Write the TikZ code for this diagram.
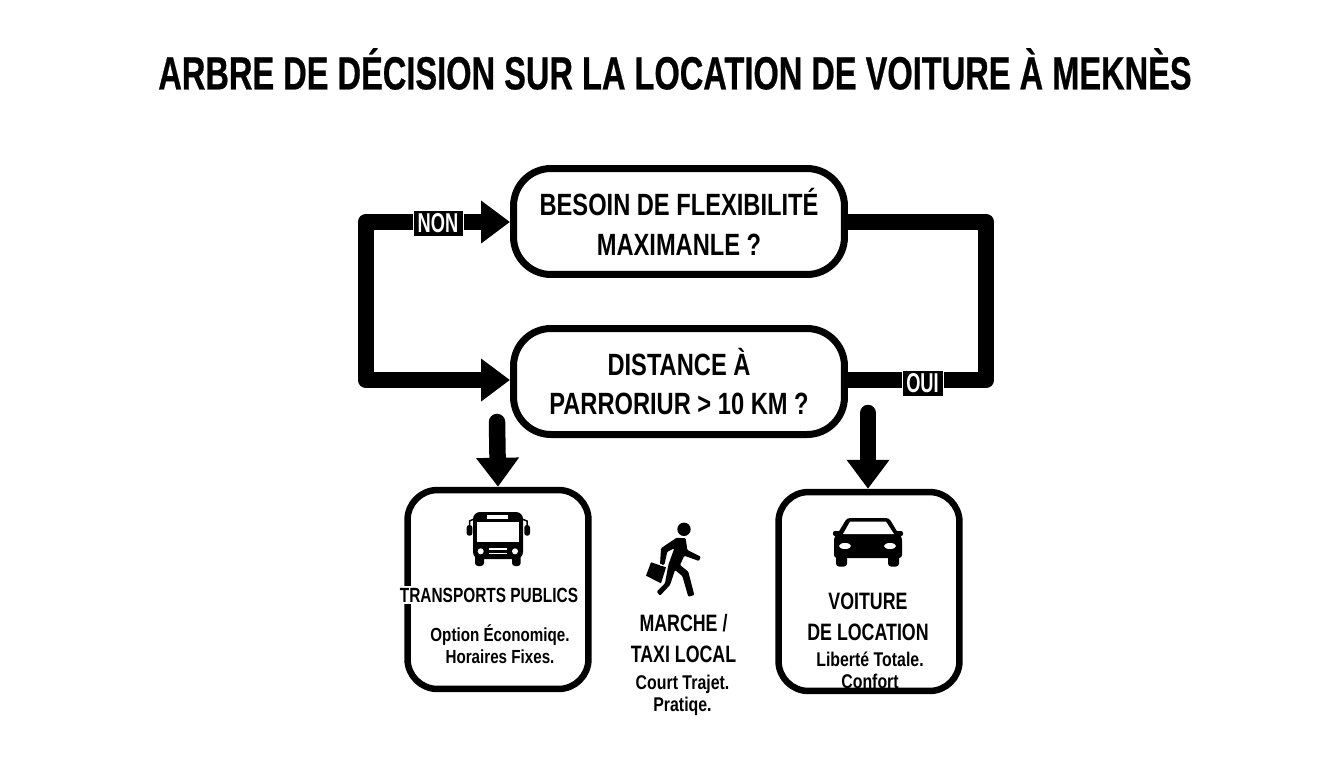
\documentclass[tikz,border=0pt]{standalone}
\usepackage{fontspec}
\setmainfont{Liberation Sans}
\newfontfamily\titlefont[FakeStretch=0.7,FakeBold=0.5]{Liberation Sans}
\newfontfamily\boxfont[FakeStretch=0.77]{Liberation Sans}
\newfontfamily\headfont[FakeStretch=0.75]{Liberation Sans}
\newfontfamily\notefont[FakeStretch=0.8]{Liberation Sans}
\newfontfamily\tagfont[FakeStretch=0.67]{Liberation Sans}
\usetikzlibrary{arrows.meta}
\tikzset{
	question/.style={draw,line width=0.14cm,rounded corners=0.75cm,minimum width=6.62cm,minimum height=2.12cm,align=center,font=\boxfont\bfseries\fontsize{17.5}{22.7}\selectfont},
	result/.style={draw,line width=0.13cm,rounded corners=0.6cm,minimum width=3.62cm,minimum height=3.98cm},
	looptrack/.style={line width=0.33cm,line join=round,{Triangle[length=0.58cm,width=0.82cm]}-{Triangle[length=0.58cm,width=0.82cm]}},
	rightloop/.style={line width=0.33cm,line join=round},
	downarrow/.style={line width=0.33cm,line cap=round,-{Triangle[length=0.58cm,width=0.82cm]}},
	tagbox/.style={fill=black,text=white,draw=white,line width=0.02cm,inner sep=0pt,minimum width=1cm,minimum height=0.52cm,font=\tagfont\bfseries\fontsize{15.5}{16}\selectfont},
	heading/.style={align=center,font=\headfont\bfseries\fontsize{13.5}{17.5}\selectfont},
	detail/.style={align=center,font=\notefont\bfseries\fontsize{10.8}{12.5}\selectfont},
	detailbig/.style={align=center,font=\notefont\bfseries\fontsize{11.3}{12.5}\selectfont}
}
\begin{document}
\begin{tikzpicture}[x=0.02cm,y=-0.02cm]
	\useasboundingbox (0,0) rectangle (1344,768);

	\coordinate (LT) at (366,222);
	\coordinate (LB) at (366,380);
	\coordinate (RT) at (986,222);
	\coordinate (RB) at (986,380);
	\coordinate (BT) at (497,422);
	\coordinate (CT) at (868,413);

	% 标题
	\node [font=\titlefont\bfseries\fontsize{26.5}{30}\selectfont] (title) at (675,69) {ARBRE DE DÉCISION SUR LA LOCATION DE VOITURE À MEKNÈS};

	% 问题框
	\node [question] (flex) at (679,221.5) {BESOIN DE FLEXIBILITÉ\\MAXIMANLE ?};
	\node [question] (dist) at (679,381.5) {DISTANCE À\\PARRORIUR > 10 KM ?};

	% 结果框
	\node [result] (bus) at (498,589.5) {};
	\node [result] (car) at (869,591.5) {};

	% 连接线
	\draw [looptrack] (flex.west |- LT) -- (LT) -- (LB) -- (dist.west |- LB);
	\draw [rightloop] (flex.east |- RT) -- (RT) -- (RB) -- (dist.east |- RB);
	\draw [downarrow] (BT) -- (bus.north);
	\draw [downarrow] (CT) -- (car.north -| CT);

	% 标注
	\node [tagbox] (non) at (438,223) {NON};
	\node [tagbox,minimum width=0.82cm] (oui) at (922.5,383) {OUI};

	% 公交车图标
	\fill [rounded corners=0.14cm] (473,512) rectangle (523,559);
	\fill [rounded corners=0.06cm] (475,555) rectangle (484,566);
	\fill [rounded corners=0.06cm] (512,555) rectangle (520.7,566);
	\fill [rounded corners=0.05cm] (466.7,525) rectangle (472.3,535.7);
	\fill [rounded corners=0.05cm] (524.3,525) rectangle (530,535.7);
	\draw [line width=0.03cm] (469.5,525) -- (469.5,521) -- (474,519);
	\draw [line width=0.03cm] (527,525) -- (527,521) -- (522,519);
	\fill [white] (476.7,521.7) rectangle (519.3,542.3);
	\fill [white] (487,515) rectangle (507.7,519);
	\fill [white] (480.7,551.3) circle (3);
	\fill [white] (515,551.3) circle (3);
	\fill [white] (489.3,548.3) rectangle (506.7,550);
	\fill [white] (489.3,552.7) rectangle (506.7,554);

	% 行人图标
	\fill (684,529.3) circle (6.7);
	\fill [rounded corners=0.02cm] (663.3,546.7) -- (676.7,537.7) -- (685.7,538.3) -- (687.3,550) -- (700.7,556.7) -- (699,561) -- (684.3,555.7) -- (680,565) -- (688.3,571.7) -- (694.3,595) -- (688.3,596.7) -- (682.3,576) -- (675,570) -- (670,585) -- (660,595.7) -- (656.7,591.7) -- (665,583.3) -- (668.3,565) -- (674.3,548.3) -- (667.3,551.7) -- (664.3,565) -- (660,564.3) -- (661,548.3) -- cycle;
	\fill (651,562.3) -- (666,567.3) -- (661,583.3) -- (646,575.7) -- cycle;
	\fill [white] (661,564.8) circle (1);

	% 汽车图标
	\fill [rounded corners=0.06cm] (847,518) -- (889,518) -- (898,533) -- (902,537) -- (902,558) -- (834,558) -- (834,537) -- (838,533) -- cycle;
	\fill [rounded corners=0.06cm] (836,552) rectangle (847,566.5);
	\fill [rounded corners=0.06cm] (888,552) rectangle (899,566.5);
	\fill [rounded corners=0.04cm] (833,531) rectangle (842,536);
	\fill [rounded corners=0.04cm] (895,531) rectangle (903,536);
	\fill [white] (850,521.7) -- (886,521.7) -- (894,534) -- (843,534) -- cycle;
	\fill [white] (845,546) ellipse (6 and 3);
	\fill [white] (890,546) ellipse (6 and 3);

	% 文字
	\node [heading,font=\headfont\bfseries\fontsize{11.7}{14}\selectfont,fill=white,inner sep=1pt] (buslabel) at (489,595) {TRANSPORTS PUBLICS};
	\node [detail] (busnote) at (500,644) {Option Économiqe.\\Horaires Fixes.};
	\node [heading] (walklabel) at (683.5,638.5) {MARCHE /\\TAXI LOCAL};
	\node [detailbig] (walknote) at (682.5,695.5) {Court Trajet.\\Pratiqe.};
	\node [heading] (carlabel) at (868,616.5) {VOITURE\\DE LOCATION};
	\node [detailbig] (carnote) at (870,670) {Liberté Totale.\\Confort};
\end{tikzpicture}
\end{document}
